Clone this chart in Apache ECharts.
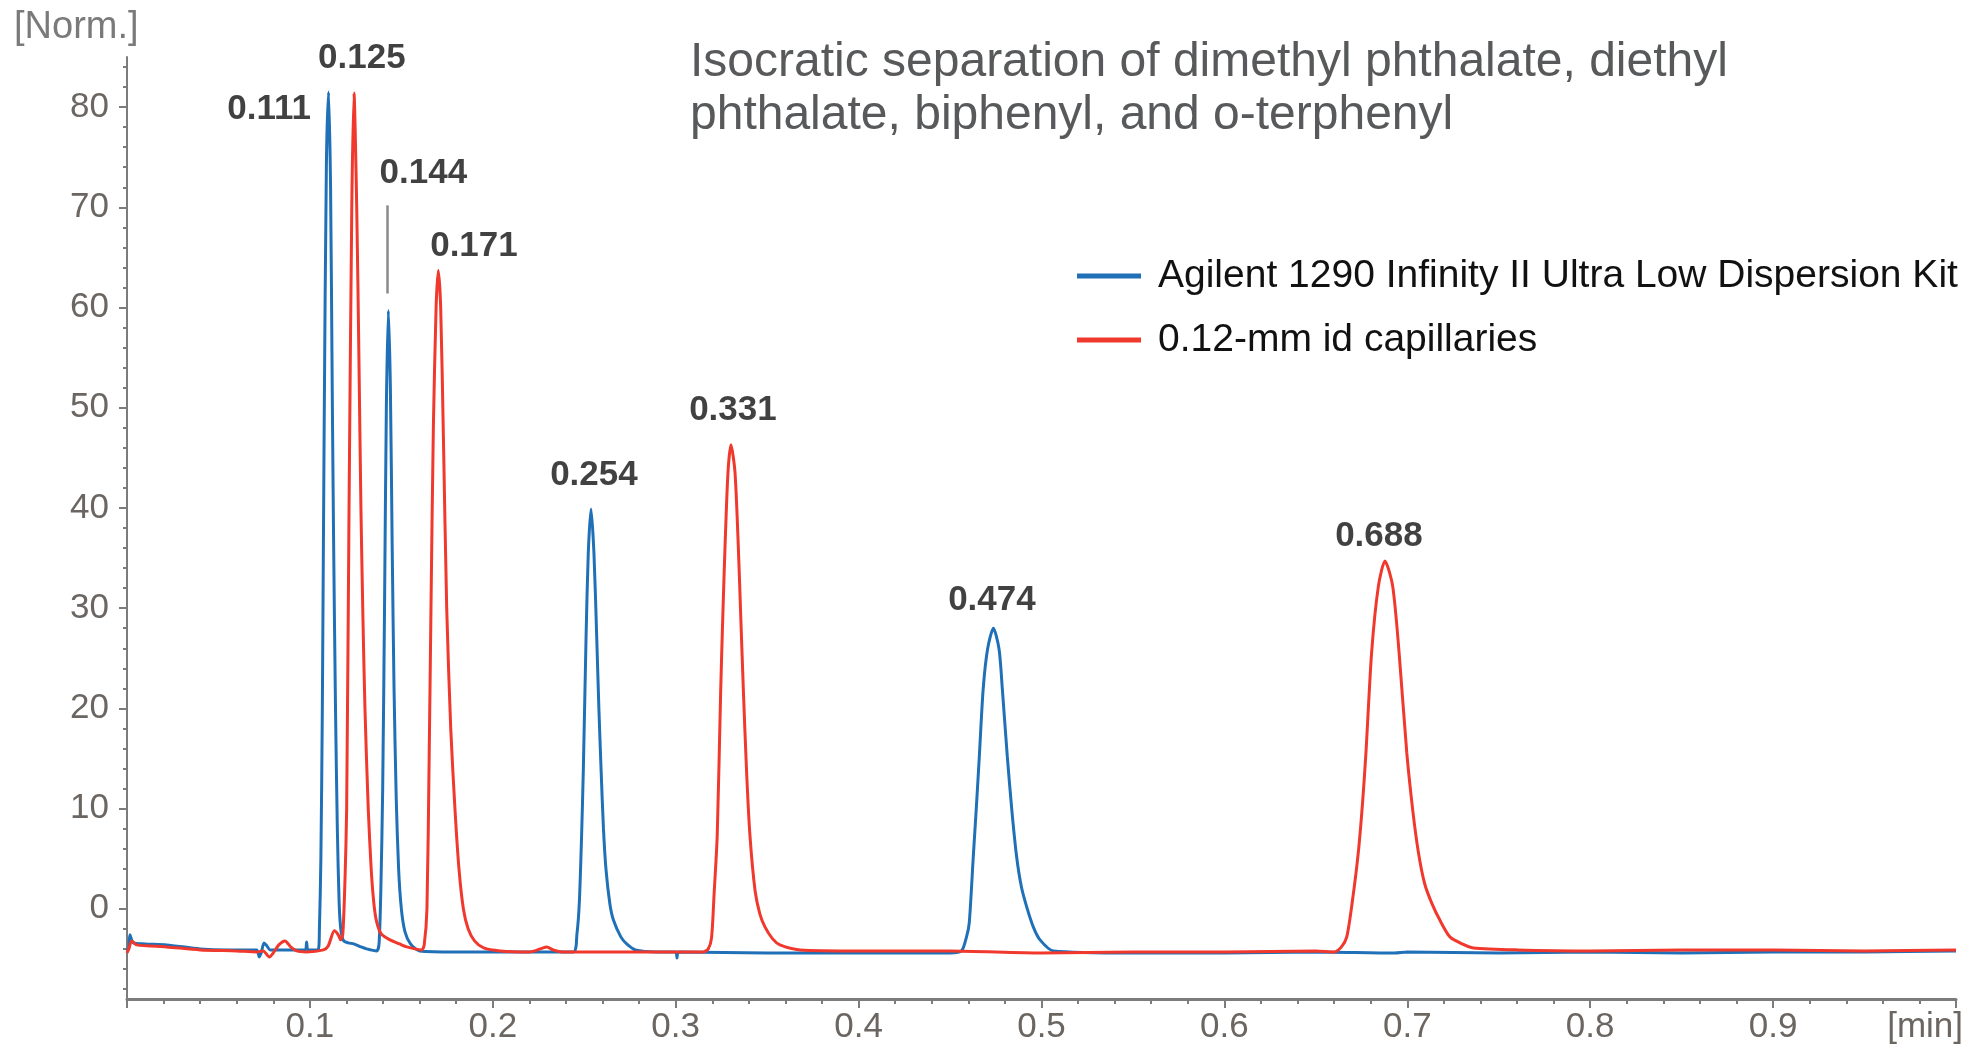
<!DOCTYPE html>
<html>
<head>
<meta charset="utf-8">
<title>Isocratic separation</title>
<script src="https://cdn.jsdelivr.net/npm/echarts@6/dist/echarts.min.js"></script>
<style>
    html, body {margin: 0; padding: 0; background: #fff;}
    #chart {width: 1975px; height: 1051px;}
</style>
</head>
<body>
<div id="chart"></div>
<script>
/**
 * 数据
 */
var seriesNames = ['Agilent 1290 Infinity II Ultra Low Dispersion Kit', '0.12-mm id capillaries'];

// 蓝线: 时间 [min]
var blueTimes = [0.0000, 0.0010, 0.0016, 0.0035, 0.0100, 0.0217, 0.0400, 0.0550, 0.0709, 0.0723, 0.0735, 0.0749, 0.0765, 0.0782,
    0.0900, 0.0975, 0.0982, 0.0990, 0.1045, 0.1052, 0.1060, 0.1068, 0.1078, 0.1090, 0.1102, 0.1113, 0.1122, 0.1130, 0.1140,
    0.1150, 0.1160, 0.1170, 0.1185, 0.1210, 0.1240, 0.1280, 0.1310, 0.1365, 0.1378, 0.1388, 0.1398, 0.1408, 0.1418, 0.1429,
    0.1440, 0.1450, 0.1460, 0.1472, 0.1485, 0.1500, 0.1520, 0.1550, 0.1600, 0.1800, 0.2100, 0.2440, 0.2460, 0.2473, 0.2485,
    0.2495, 0.2510, 0.2522, 0.2537, 0.2553, 0.2568, 0.2580, 0.2592, 0.2605, 0.2619, 0.2640, 0.2659, 0.2700, 0.2732, 0.2780,
    0.2900, 0.3000, 0.3007, 0.3015, 0.3500, 0.4000, 0.4500, 0.4563, 0.4590, 0.4605, 0.4627, 0.4645, 0.4660, 0.4681, 0.4705,
    0.4737, 0.4768, 0.4786, 0.4813, 0.4838, 0.4864, 0.4890, 0.4919, 0.4955, 0.4992, 0.5065, 0.5500, 0.6000, 0.6500, 0.6930,
    0.7000, 0.7500, 0.8000, 0.8500, 0.9000, 0.9500, 1.0000];
// 蓝线: 信号 [Norm.]
var blueSignal = [-4.2, -3.9, -2.6, -3.4, -3.5, -3.6, -4.0, -4.1, -4.1, -4.8, -4.3, -3.4, -3.7, -4.1,
    -4.1, -4.1, -3.3, -4.1, -4.1, -2.0, 5, 20, 48, 74, 81.5, 72, 52, 36, 20,
    8, 0.5, -2.2, -3.2, -3.4, -3.5, -3.8, -4.0, -4.2, -3.5, 2, 12, 30, 50, 59.7,
    52, 36, 22, 11, 4, 0, -2.3, -3.5, -4.2, -4.3, -4.3, -4.3, -2.5, 0.6, 7,
    13.9, 27.2, 35.5, 39.9, 35.5, 27.2, 20, 13.9, 8, 3.9, 0.5, -1.1, -2.8, -3.5, -4.1,
    -4.3, -4.3, -4.9, -4.3, -4.4, -4.4, -4.4, -4.2, -2.8, -1.4, 5.2, 10.5, 15.2, 21.9, 25.9,
    28.0, 25.9, 21.9, 15.2, 9.8, 5.2, 2.2, 0.2, -1.8, -3.1, -4.2, -4.4, -4.4, -4.3, -4.4,
    -4.3, -4.4, -4.3, -4.4, -4.3, -4.3, -4.2];

// 红线: 时间 [min]
var redTimes = [0.0000, 0.0010, 0.0026, 0.0053, 0.0217, 0.0400, 0.0600, 0.0709, 0.0745, 0.0778, 0.0800, 0.0830, 0.0864, 0.0895,
    0.0928, 0.0980, 0.1074, 0.1100, 0.1134, 0.1155, 0.1168, 0.1180, 0.1192, 0.1201, 0.1214, 0.1229, 0.1241, 0.1256, 0.1268,
    0.1279, 0.1290, 0.1301, 0.1319, 0.1335, 0.1350, 0.1365, 0.1390, 0.1438, 0.1490, 0.1529, 0.1611, 0.1625, 0.1640, 0.1652,
    0.1662, 0.1675, 0.1690, 0.1702, 0.1715, 0.1730, 0.1748, 0.1770, 0.1793, 0.1815, 0.1839, 0.1865, 0.1900, 0.1950, 0.2040,
    0.2200, 0.2260, 0.2295, 0.2330, 0.2380, 0.2800, 0.3150, 0.3178, 0.3196, 0.3210, 0.3227, 0.3246, 0.3258, 0.3270, 0.3286,
    0.3302, 0.3324, 0.3342, 0.3356, 0.3370, 0.3388, 0.3406, 0.3434, 0.3460, 0.3488, 0.3530, 0.3570, 0.3680, 0.4000, 0.4500,
    0.5000, 0.5500, 0.6000, 0.6500, 0.6600, 0.6640, 0.6669, 0.6700, 0.6732, 0.6755, 0.6774, 0.6805, 0.6842, 0.6878, 0.6920,
    0.6955, 0.6997, 0.7030, 0.7061, 0.7095, 0.7133, 0.7180, 0.7233, 0.7300, 0.7361, 0.7600, 0.8000, 0.8500, 0.9000, 0.9500,
    1.0000];
// 红线: 信号 [Norm.]
var redSignal = [-4.4, -4.0, -3.2, -3.6, -3.8, -4.1, -4.2, -4.3, -4.2, -4.8, -4.4, -3.6, -3.2, -3.8,
    -4.2, -4.3, -4.1, -3.7, -2.2, -2.6, -3.1, -2.5, 3, 10, 40, 70, 81.4, 70, 55,
    40, 29, 20, 10, 4, 0.5, -1.3, -2.5, -3.1, -3.5, -3.8, -4.1, -3.6, 0, 15,
    30, 48, 60, 63.7, 60, 47, 30, 18, 10, 4, 0, -2, -3.2, -3.9, -4.2,
    -4.3, -4.0, -3.8, -4.1, -4.3, -4.3, -4.3, -4.0, -2.9, 1.5, 7.3, 21.8, 29.5, 36.3, 43.6,
    46.3, 43.6, 36.3, 29, 21.8, 13.5, 7.3, 1.8, -0.5, -1.8, -3.0, -3.6, -4.1, -4.2, -4.2,
    -4.4, -4.3, -4.3, -4.2, -4.3, -3.8, -2.8, 0.8, 5.6, 10.5, 15.6, 25.6, 32.2, 34.7, 32.2,
    25.6, 15.6, 9.8, 5.6, 2.5, 0.6, -1.2, -2.8, -3.5, -3.9, -4.1, -4.2, -4.1, -4.1, -4.2,
    -4.1];

// 峰标注 (保留时间) 及其在坐标系中的位置
var peakLabels = ['0.111', '0.125', '0.144', '0.171', '0.254', '0.331', '0.474', '0.688'];
var peakLabelX = [0.0777, 0.1284, 0.1620, 0.1897, 0.2553, 0.3313, 0.4729, 0.6845];
var peakLabelY = [79.8, 84.9, 73.4, 66.1, 43.3, 49.7, 30.8, 37.2];
// 0.144 的引线
var leaderX = 0.1423;
var leaderY = [70.2, 61.4];

// 坐标轴刻度
var yMajorTicks = [0, 10, 20, 30, 40, 50, 60, 70, 80];
var yMinorTicks = [-8, -6, -4, -2, 2, 4, 6, 8, 12, 14, 16, 18, 22, 24, 26, 28, 32, 34, 36, 38, 42, 44, 46, 48,
    52, 54, 56, 58, 62, 64, 66, 68, 72, 74, 76, 78, 82, 84];
var yRange = [-9, 85];
var xRange = [0, 1];

var fontFamily = "'Liberation Sans', Arial, sans-serif";

/**
 * 页面加载完成后立即执行
 */
window.onload = function () {
    var blueData = [];
    for (var i = 0; i < blueTimes.length; i++) {
        blueData.push([blueTimes[i], blueSignal[i]]);
    }
    var redData = [];
    for (var j = 0; j < redTimes.length; j++) {
        redData.push([redTimes[j], redSignal[j]]);
    }
    var labelData = [];
    for (var k = 0; k < peakLabels.length; k++) {
        labelData.push([peakLabelX[k], peakLabelY[k], peakLabels[k]]);
    }
    renderChart(blueData, redData, labelData);
};

/**
 * 渲染色谱图
 */
function renderChart(blueData, redData, labelData) {
    var chart = echarts.init(document.getElementById('chart'));// 初始化
    var axisColor = '#7c7c7c';
    var tickLabelColor = '#6b6661';
    var option = {
        animation: false,
        backgroundColor: '#ffffff',
        title: [{
            text: 'Isocratic separation of dimethyl phthalate, diethyl\nphthalate, biphenyl, and o-terphenyl',
            left: 690,
            top: 36,
            padding: 0,
            textStyle: {
                fontFamily: fontFamily,
                fontSize: 48,
                fontWeight: 'normal',
                color: '#58595b',
                lineHeight: 53
            }
        }, {
            text: '[Norm.]',
            left: 14,
            top: 9,
            padding: 0,
            textStyle: {
                fontFamily: fontFamily,
                fontSize: 38,
                fontWeight: 'normal',
                color: '#7a7a7a'
            }
        }],
        legend: {
            data: seriesNames,
            orient: 'vertical',
            left: 1077,
            top: 256,
            icon: 'rect',
            itemWidth: 64,
            itemHeight: 5,
            itemGap: 24,
            padding: 0,
            textStyle: {
                fontFamily: fontFamily,
                fontSize: 39,
                color: '#111111',
                lineHeight: 40,
                padding: [0, 0, 0, 12]
            }
        },
        grid: {
            left: 127,
            right: 19,
            top: 57,
            bottom: 52
        },
        xAxis: {
            type: 'value',
            min: xRange[0],
            max: xRange[1],
            interval: 0.1,
            name: '[min]',
            nameLocation: 'end',
            nameGap: 7,
            nameTextStyle: {
                fontFamily: fontFamily,
                fontSize: 35,
                color: tickLabelColor,
                align: 'right',
                verticalAlign: 'top',
                padding: [11, 0, 0, 0]
            },
            axisLine: {onZero: false, lineStyle: {color: axisColor, width: 3}},
            axisTick: {length: 9, lineStyle: {color: axisColor, width: 2}},
            minorTick: {show: true, splitNumber: 5, length: 5, lineStyle: {color: axisColor, width: 2}},
            axisLabel: {
                margin: 11,
                fontFamily: fontFamily,
                fontSize: 35,
                color: tickLabelColor,
                formatter: function (v) {
                    return (v > 0.001 && v < 0.999) ? v.toFixed(1) : '';
                }
            },
            splitLine: {show: false},
            minorSplitLine: {show: false}
        },
        yAxis: [{
            type: 'value',
            min: yRange[0],
            max: yRange[1],
            position: 'left',
            axisLine: {show: true, onZero: false, lineStyle: {color: axisColor, width: 2}},
            axisTick: {show: true, customValues: yMajorTicks, length: 8, lineStyle: {color: axisColor, width: 2}},
            axisLabel: {
                customValues: yMajorTicks,
                margin: 18,
                fontFamily: fontFamily,
                fontSize: 35,
                color: tickLabelColor
            },
            splitLine: {show: false}
        }, {
            type: 'value',
            min: yRange[0],
            max: yRange[1],
            position: 'left',
            axisLine: {show: false, onZero: false},
            axisTick: {show: true, customValues: yMinorTicks, length: 4, lineStyle: {color: axisColor, width: 2}},
            axisLabel: {show: false},
            splitLine: {show: false}
        }],
        series: [{
            name: seriesNames[0],
            type: 'line',
            data: blueData,
            showSymbol: false,
            smooth: 0.25,
            color: '#1f70b6',
            lineStyle: {width: 3, color: '#1f70b6'},
            markLine: {
                silent: true,
                symbol: ['none', 'none'],
                label: {show: false},
                lineStyle: {color: '#8a8a8a', width: 2.5, type: 'solid'},
                data: [[{coord: [leaderX, leaderY[0]]}, {coord: [leaderX, leaderY[1]]}]]
            }
        }, {
            name: seriesNames[1],
            type: 'line',
            data: redData,
            showSymbol: false,
            smooth: 0.25,
            color: '#f0382d',
            lineStyle: {width: 3, color: '#f0382d'}
        }, {
            name: 'peaks',
            type: 'scatter',
            data: labelData,
            symbolSize: 1,
            clip: false,
            silent: true,
            itemStyle: {color: 'rgba(0,0,0,0)'},
            label: {
                show: true,
                position: 'inside',
                fontFamily: fontFamily,
                fontSize: 35,
                fontWeight: 'bold',
                color: '#111111',
                formatter: function (p) {
                    return p.data[2];
                }
            }
        }]
    };
    chart.setOption(option);
}
</script>
</body>
</html>
